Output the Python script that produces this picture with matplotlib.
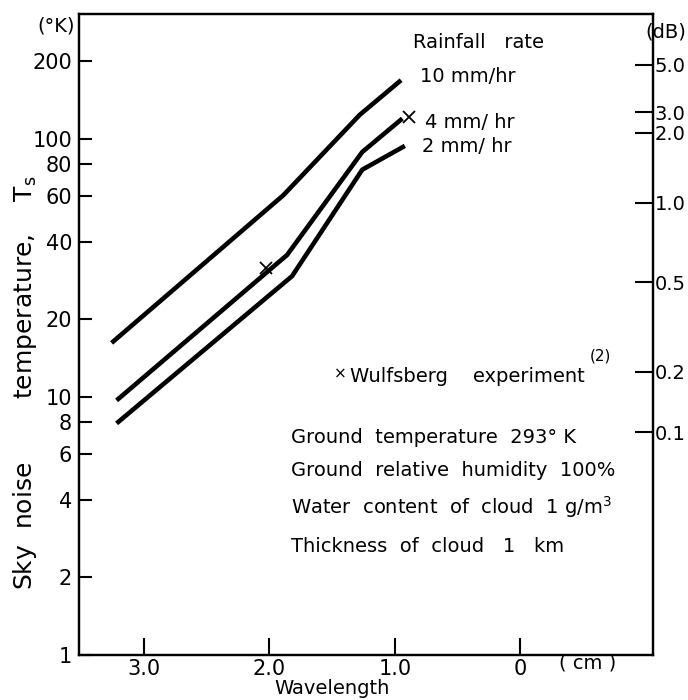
import matplotlib
matplotlib.use("Agg")
import matplotlib.pyplot as plt
from matplotlib.ticker import FixedLocator, FixedFormatter, NullLocator

plt.rcParams['font.family'] = ['DejaVu Sans']

# ---- data ----
wl_10 = [3.26, 1.89, 1.28, 0.95]
ts_10 = [16.2, 60.5, 124.0, 169.0]

wl_4 = [3.22, 1.86, 1.26, 0.94]
ts_4 = [9.7, 35.5, 89.0, 120.0]

wl_2 = [3.22, 1.82, 1.26, 0.92]
ts_2 = [7.9, 29.4, 76.0, 94.0]

wulf_wl = [2.03, 0.89]
wulf_ts = [31.6, 121.7]

y_ticks = [1, 2, 4, 6, 8, 10, 20, 40, 60, 80, 100, 200]
y_labels = ["1", "2", "4", "6", "8", "10", "20", "40", "60", "80", "100", "200"]

x_ticks = [3.0, 2.0, 1.0, 0.0]
x_labels = ["3.0", "2.0", "1.0", "0"]

db_labels = ["5.0", "3.0", "2.0", "1.0", "0.5", "0.2", "0.1"]
db_pos_ts = [194.0, 127.0, 105.5, 56.5, 27.9, 12.5, 7.3]

W, H = 688, 700
fig = plt.figure(figsize=(W / 100, H / 100), dpi=100)
L, R, T, B = 79, 653, 14, 655
ax = fig.add_axes([L / W, 1 - B / H, (R - L) / W, (B - T) / H])

def fx(x):
    return x / W

def fy(y):
    return 1 - y / H

lw = 3.3
for wl, ts in [(wl_10, ts_10), (wl_4, ts_4), (wl_2, ts_2)]:
    ax.plot(wl, ts, color='black', lw=lw, solid_capstyle='butt', solid_joinstyle='miter')
ax.plot(wulf_wl, wulf_ts, linestyle='none', marker='x', color='black', ms=8, mew=1.3)

ax.set_yscale('log')
ax.set_ylim(1, 305)
ax.set_xlim(3.52, -1.06)

ax.yaxis.set_major_locator(FixedLocator(y_ticks))
ax.yaxis.set_major_formatter(FixedFormatter(y_labels))
ax.yaxis.set_minor_locator(NullLocator())
ax.xaxis.set_major_locator(FixedLocator(x_ticks))
ax.xaxis.set_major_formatter(FixedFormatter(x_labels))

fs = 14
tfs = 15
ax.tick_params(axis='y', direction='in', length=9, width=1.5, labelsize=tfs, pad=5)
ax.tick_params(axis='x', direction='in', length=12, width=1.5, labelsize=tfs, pad=3)
for s in ax.spines.values():
    s.set_linewidth(1.6)

ax2 = ax.twinx()
ax2.set_yscale('log')
ax2.set_ylim(1, 305)
ax2.yaxis.set_major_locator(FixedLocator(db_pos_ts))
ax2.yaxis.set_major_formatter(FixedFormatter(db_labels))
ax2.yaxis.set_minor_locator(NullLocator())
ax2.tick_params(axis='y', direction='in', length=13, width=1.5, labelsize=fs, pad=1)
for s in ax2.spines.values():
    s.set_linewidth(1.6)

tk = dict(color='black', fontsize=fs)
fig.text(fx(56), fy(26), "(°K)", ha='center', va='center', **tk)
fig.text(fx(666), fy(32), "(dB)", ha='center', va='center', **tk)
fig.text(fx(413), fy(43), "Rainfall   rate", ha='left', va='center', **tk)
fig.text(fx(420), fy(77), "10 mm/hr", ha='left', va='center', **tk)
fig.text(fx(425), fy(123), "4 mm/ hr", ha='left', va='center', **tk)
fig.text(fx(422), fy(147), "2 mm/ hr", ha='left', va='center', **tk)
fig.text(fx(340), fy(374), "×", ha='center', va='center', color='black', fontsize=11)
fig.text(fx(350), fy(377), "Wulfsberg    experiment", ha='left', va='center', **tk)
fig.text(fx(590), fy(356), "(2)", ha='left', va='center', color='black', fontsize=11)
fig.text(fx(291), fy(437), "Ground  temperature  293° K", ha='left', va='center', **tk)
fig.text(fx(291), fy(470), "Ground  relative  humidity  100%", ha='left', va='center', **tk)
fig.text(fx(291), fy(507), "Water  content  of  cloud  1 g/m$^\\mathregular{3}$", ha='left', va='center', **tk)
fig.text(fx(291), fy(546), "Thickness  of  cloud   1   km", ha='left', va='center', **tk)
fig.text(fx(332), fy(689), "Wavelength", ha='center', va='center', **tk)
fig.text(fx(588), fy(663), "( cm )", ha='center', va='center', **tk)
fig.text(fx(25), fy(383), "Sky  noise        temperature,    T$_\\mathregular{s}$", ha='center', va='center',
         rotation=90, color='black', fontsize=18)

fig.savefig("out.png", dpi=100)
